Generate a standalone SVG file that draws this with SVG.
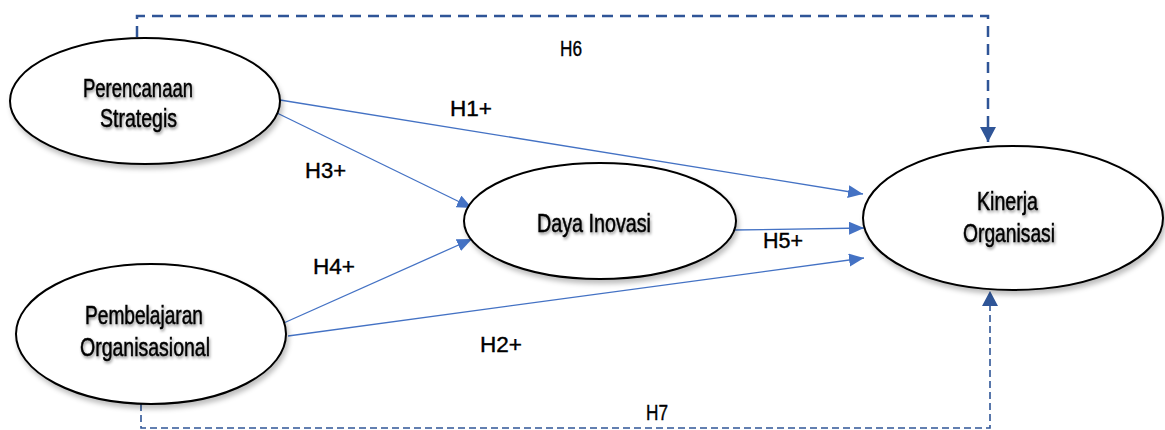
<svg xmlns="http://www.w3.org/2000/svg" width="1165" height="430" viewBox="0 0 1165 430">
<defs>
<style>
.node ellipse{fill:#fff;stroke:#000;stroke-width:2;filter:url(#eshadow)}
.nt{font-family:"Liberation Sans",Arial,sans-serif;font-size:26px;fill:#000;stroke:#000;stroke-width:0.5;text-anchor:start;filter:url(#tshadow)}
.lbl{font-family:"Liberation Sans",Arial,sans-serif;font-size:22px;fill:#000;stroke:#000;stroke-width:0.4}
.solid{fill:none;stroke:#4472C4;stroke-width:1.3;marker-end:url(#ab)}
.dash1{fill:none;stroke:#2F5597;stroke-width:2.5;stroke-dasharray:11 7;marker-end:url(#ad)}
.dash2{fill:none;stroke:#2F5597;stroke-width:1.6;stroke-dasharray:7 4;marker-end:url(#ad)}
</style>
<marker id="ab" markerUnits="userSpaceOnUse" markerWidth="16" markerHeight="14" refX="15" refY="6.5" orient="auto">
<path d="M0,0 L15,6.5 L0,13 z" fill="#4472C4"/>
</marker>
<marker id="ad" markerUnits="userSpaceOnUse" markerWidth="16" markerHeight="16" refX="15" refY="8" orient="auto">
<path d="M0,0 L15,8 L0,16 z" fill="#2F5597"/>
</marker>
<filter id="tshadow" x="-10%" y="-30%" width="120%" height="170%">
<feGaussianBlur in="SourceAlpha" stdDeviation="1.6"/>
<feOffset dx="1" dy="2" result="b"/>
<feFlood flood-color="#000" flood-opacity="0.45"/>
<feComposite in2="b" operator="in"/>
<feMerge><feMergeNode/><feMergeNode in="SourceGraphic"/></feMerge>
</filter>
<filter id="eshadow" x="-10%" y="-10%" width="125%" height="130%">
<feGaussianBlur in="SourceAlpha" stdDeviation="2.5"/>
<feOffset dx="2" dy="4" result="b"/>
<feFlood flood-color="#000" flood-opacity="0.25"/>
<feComposite in2="b" operator="in"/>
<feMerge><feMergeNode/><feMergeNode in="SourceGraphic"/></feMerge>
</filter>
</defs>
<rect width="1165" height="430" fill="#fff"/>
<g id="connectors">
<path class="dash1" d="M137,37 V16 H988 V142"/>
<path class="dash2" d="M141,404 V428 H990 V291"/>
<line class="solid" x1="280" y1="100" x2="863" y2="194"/>
<line class="solid" x1="277" y1="113" x2="472" y2="208"/>
<line class="solid" x1="277" y1="326" x2="472" y2="239"/>
<line class="solid" x1="288" y1="336" x2="864" y2="258"/>
<line class="solid" x1="733" y1="230" x2="864" y2="228"/>
</g>
<g id="node-perencanaan" class="node">
<ellipse cx="145" cy="101" rx="135" ry="63"/>
<text class="nt" x="83" y="97" textLength="110" lengthAdjust="spacingAndGlyphs">Perencanaan</text>
<text class="nt" x="100" y="127" textLength="77" lengthAdjust="spacingAndGlyphs">Strategis</text>
</g>
<g id="node-pembelajaran" class="node">
<ellipse cx="151" cy="334" rx="135" ry="70"/>
<text class="nt" x="85" y="324" textLength="118" lengthAdjust="spacingAndGlyphs">Pembelajaran</text>
<text class="nt" x="80" y="356" textLength="130" lengthAdjust="spacingAndGlyphs">Organisasional</text>
</g>
<g id="node-daya" class="node">
<ellipse cx="600" cy="221" rx="136" ry="58"/>
<text class="nt" x="537" y="232" textLength="114" lengthAdjust="spacingAndGlyphs">Daya Inovasi</text>
</g>
<g id="node-kinerja" class="node">
<ellipse cx="1013" cy="218" rx="150" ry="72"/>
<text class="nt" x="977" y="210" textLength="61" lengthAdjust="spacingAndGlyphs">Kinerja</text>
<text class="nt" x="963" y="242" textLength="92" lengthAdjust="spacingAndGlyphs">Organisasi</text>
</g>
<g id="labels">
<text class="lbl" x="560" y="56" textLength="22" lengthAdjust="spacingAndGlyphs">H6</text>
<text class="lbl" x="450" y="116" textLength="42" lengthAdjust="spacingAndGlyphs">H1+</text>
<text class="lbl" x="305" y="178" textLength="41" lengthAdjust="spacingAndGlyphs">H3+</text>
<text class="lbl" x="313" y="274" textLength="42" lengthAdjust="spacingAndGlyphs">H4+</text>
<text class="lbl" x="763" y="248" textLength="40" lengthAdjust="spacingAndGlyphs">H5+</text>
<text class="lbl" x="480" y="352" textLength="42" lengthAdjust="spacingAndGlyphs">H2+</text>
<text class="lbl" x="646" y="420" textLength="22" lengthAdjust="spacingAndGlyphs">H7</text>
</g>
</svg>
